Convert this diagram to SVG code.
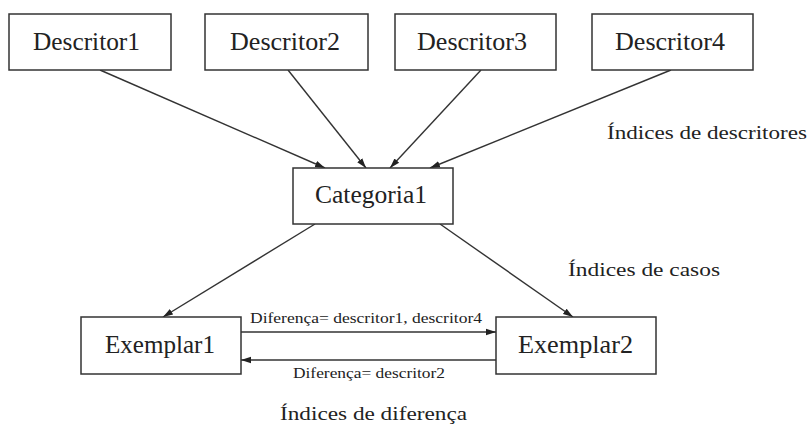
<svg xmlns="http://www.w3.org/2000/svg" width="808" height="433" viewBox="0 0 808 433">
<style>
.box{fill:#fff;stroke:#333;stroke-width:1.5}
.lbl{font-family:"Liberation Serif","Times New Roman",serif;font-size:25px;fill:#222}
.small{font-family:"Liberation Serif","Times New Roman",serif;font-size:14px;fill:#222}
.idx{font-family:"Liberation Serif","Times New Roman",serif;font-size:19px;fill:#222}
.edge{stroke:#333;stroke-width:1.4;fill:none;marker-end:url(#ah)}
</style>
<defs>
<marker id="ah" viewBox="0 0 10 8" refX="10" refY="4" markerWidth="10" markerHeight="8" markerUnits="userSpaceOnUse" orient="auto">
<path d="M0,0.8 L10,4 L0,7.2 Z" fill="#222"/>
</marker>
</defs>
<rect width="808" height="433" fill="#fff"/>
<g id="connectors">
<line class="edge" x1="100" y1="70" x2="325" y2="168"/>
<line class="edge" x1="288" y1="70" x2="366" y2="168"/>
<line class="edge" x1="481" y1="70" x2="390" y2="168"/>
<line class="edge" x1="671" y1="70" x2="430" y2="168"/>
<line class="edge" x1="315" y1="224" x2="163" y2="317"/>
<line class="edge" x1="440" y1="224" x2="573" y2="317"/>
<line class="edge" x1="241" y1="332" x2="496" y2="332"/>
<line class="edge" x1="496" y1="360" x2="241" y2="360"/>
<text class="small" x="250" y="323" textLength="232" lengthAdjust="spacingAndGlyphs">Diferença= descritor1, descritor4</text>
<text class="small" x="293" y="378" textLength="152" lengthAdjust="spacingAndGlyphs">Diferença= descritor2</text>
</g>
<g id="descritor1">
<rect class="box" x="9" y="14" width="162" height="56"/>
<text class="lbl" x="33" y="50" textLength="107" lengthAdjust="spacingAndGlyphs">Descritor1</text>
</g>
<g id="descritor2">
<rect class="box" x="205" y="14" width="163" height="56"/>
<text class="lbl" x="230" y="50" textLength="110" lengthAdjust="spacingAndGlyphs">Descritor2</text>
</g>
<g id="descritor3">
<rect class="box" x="395" y="14" width="161" height="56"/>
<text class="lbl" x="417" y="50" textLength="110" lengthAdjust="spacingAndGlyphs">Descritor3</text>
</g>
<g id="descritor4">
<rect class="box" x="592" y="14" width="161" height="56"/>
<text class="lbl" x="615" y="50" textLength="110" lengthAdjust="spacingAndGlyphs">Descritor4</text>
</g>
<g id="categoria1">
<rect class="box" x="293" y="168" width="160" height="56"/>
<text class="lbl" x="315" y="203" textLength="112" lengthAdjust="spacingAndGlyphs">Categoria1</text>
</g>
<g id="exemplar1">
<rect class="box" x="81" y="317" width="160" height="57"/>
<text class="lbl" x="105" y="353" textLength="110" lengthAdjust="spacingAndGlyphs">Exemplar1</text>
</g>
<g id="exemplar2">
<rect class="box" x="496" y="317" width="160" height="57"/>
<text class="lbl" x="518" y="353" textLength="115" lengthAdjust="spacingAndGlyphs">Exemplar2</text>
</g>
<g id="labels">
<text class="idx" x="607" y="139" textLength="200" lengthAdjust="spacingAndGlyphs">Índices de descritores</text>
<text class="idx" x="568" y="276" textLength="152" lengthAdjust="spacingAndGlyphs">Índices de casos</text>
<text class="idx" x="280" y="420" textLength="187" lengthAdjust="spacingAndGlyphs">Índices de diferença</text>
</g>
</svg>
